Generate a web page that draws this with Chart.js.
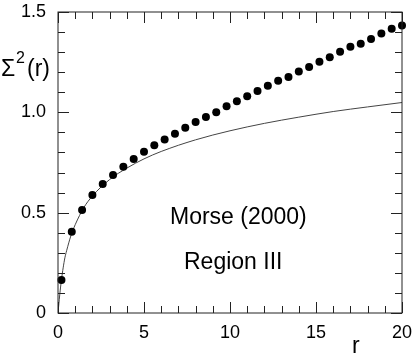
<!DOCTYPE html>
<html lang="en">
<head>
    <meta charset="UTF-8">
    <title>Morse (2000) Region III</title>
    <script src="https://cdn.jsdelivr.net/npm/chart.js"></script>
    <style>
        body {
            margin: 0;
            padding: 0;
            background-color: #ffffff;
        }
        canvas {
            display: block;
        }
    </style>
</head>
<body>
    <canvas id="myChart" width="415" height="355"></canvas>

    <script>
        // Data
        const rDots = [0.2, 0.8, 1.4, 2.0, 2.6, 3.2, 3.8, 4.4, 5.0, 5.6, 6.2, 6.8, 7.4, 8.0, 8.6, 9.2, 9.8,
                       10.4, 11.0, 11.6, 12.2, 12.8, 13.4, 14.0, 14.6, 15.2, 15.8, 16.4, 17.0, 17.6, 18.2, 18.8, 19.4, 20.0];
        const sigmaDots = [0.164, 0.405, 0.513, 0.588, 0.643, 0.688, 0.729, 0.767, 0.804, 0.836, 0.864, 0.893, 0.923, 0.952, 0.977, 1.000, 1.030,
                           1.055, 1.080, 1.106, 1.133, 1.157, 1.176, 1.204, 1.226, 1.252, 1.275, 1.302, 1.327, 1.342, 1.365, 1.393, 1.416, 1.433];

        // solid curve
        const rCurve = [0, 0.1, 0.2, 0.3, 0.4, 0.5, 0.75, 1, 1.5, 2, 3, 4, 5, 6, 8, 10, 12, 14, 16, 18, 20];
        const sigmaCurve = [0, 0.09, 0.165, 0.225, 0.275, 0.31, 0.385, 0.44, 0.525, 0.583, 0.665, 0.722, 0.768, 0.805, 0.863, 0.908, 0.945, 0.976, 1.004, 1.027, 1.049];

        const xTicks = [0, 5, 10, 15, 20];
        const yTicks = [0, 0.5, 1.0, 1.5];

        const FONT = "'Liberation Sans', Arial, Helvetica, sans-serif";

        // inward tick marks on all four sides, plus frame and texts
        const framePlugin = {
            id: 'frame',
            afterDraw(chart) {
                const c = chart.ctx;
                const a = chart.chartArea;
                const xs = chart.scales.x;
                const ys = chart.scales.y;
                c.save();
                c.strokeStyle = '#222';
                c.lineWidth = 1;
                c.strokeRect(a.left, a.top, a.right - a.left, a.bottom - a.top);

                c.beginPath();
                for (let i = 0; i <= 20; i++) {
                    const px = Math.round(xs.getPixelForValue(i)) + 0.5;
                    const len = (i % 5 === 0) ? 11 : 7;
                    c.moveTo(px, a.bottom); c.lineTo(px, a.bottom - len);
                    c.moveTo(px, a.top); c.lineTo(px, a.top + len);
                }
                for (let i = 0; i <= 15; i++) {
                    const py = Math.round(ys.getPixelForValue(i / 10)) + 0.5;
                    const len = (i % 5 === 0) ? 11 : 7;
                    c.moveTo(a.left, py); c.lineTo(a.left + len, py);
                    c.moveTo(a.right, py); c.lineTo(a.right - len, py);
                }
                c.stroke();

                // axis titles
                c.fillStyle = '#000';
                c.textBaseline = 'alphabetic';
                c.textAlign = 'left';
                c.font = '23px ' + FONT;
                c.fillText('\u03A3', 1, 76);
                c.font = '16px ' + FONT;
                c.fillText('2', 16, 63);
                c.font = '23px ' + FONT;
                c.fillText('(r)', 27, 76);
                c.fillText('r', 352, 353);

                // annotations
                c.fillText('Morse (2000)', 170, 224);
                c.fillText('Region III', 184, 269);
                c.restore();
            }
        };

        const ctx = document.getElementById('myChart').getContext('2d');

        const myChart = new Chart(ctx, {
            type: 'scatter',
            data: {
                datasets: [
                    {
                        label: 'data',
                        data: rDots.map((r, i) => ({ x: r, y: sigmaDots[i] })),
                        backgroundColor: '#000',
                        borderWidth: 0,
                        pointRadius: 4,
                        showLine: false,
                        clip: false
                    },
                    {
                        label: 'curve',
                        data: rCurve.map((r, i) => ({ x: r, y: sigmaCurve[i] })),
                        borderColor: '#444',
                        borderWidth: 1,
                        pointRadius: 0,
                        showLine: true,
                        cubicInterpolationMode: 'monotone'
                    }
                ]
            },
            options: {
                responsive: false,
                animation: false,
                devicePixelRatio: 1,
                layout: {
                    padding: { top: 12, right: 13, left: 0, bottom: 0 }
                },
                plugins: {
                    legend: { display: false },
                    tooltip: { enabled: false }
                },
                scales: {
                    x: {
                        type: 'linear',
                        min: 0,
                        max: 20,
                        afterFit(scale) {
                            scale.height = 42;
                            scale.paddingLeft = 0;
                            scale.paddingRight = 0;
                        },
                        afterBuildTicks(scale) { scale.ticks = xTicks.map(v => ({ value: v })); },
                        ticks: {
                            color: '#000',
                            padding: 9,
                            maxRotation: 0,
                            font: { family: FONT, size: 18 },
                            callback: (v) => String(v)
                        },
                        grid: { display: false, drawTicks: false },
                        border: { display: false }
                    },
                    y: {
                        type: 'linear',
                        min: 0,
                        max: 1.5,
                        afterFit(scale) {
                            scale.width = 58;
                            scale.paddingTop = 0;
                            scale.paddingBottom = 0;
                        },
                        afterBuildTicks(scale) { scale.ticks = yTicks.map(v => ({ value: v })); },
                        ticks: {
                            color: '#000',
                            padding: 12,
                            font: { family: FONT, size: 18 },
                            callback: (v) => v === 0 ? '0' : v.toFixed(1)
                        },
                        grid: { display: false, drawTicks: false },
                        border: { display: false }
                    }
                }
            },
            plugins: [framePlugin]
        });
    </script>
</body>
</html>
